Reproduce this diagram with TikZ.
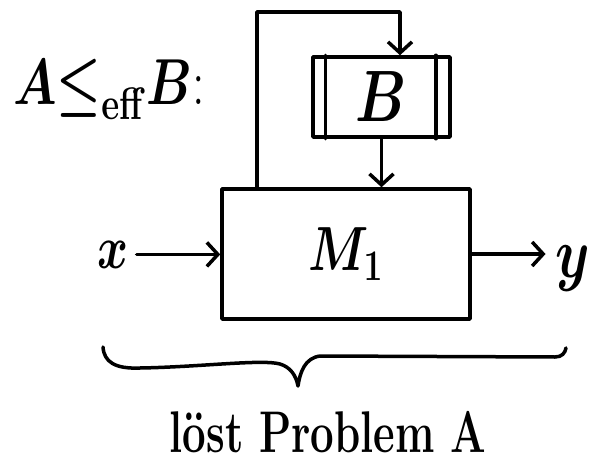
\RequirePackage{fix-cm}
\documentclass[tikz,border=0pt]{standalone}
\usepackage{graphicx}
\usetikzlibrary{arrows.meta}
% stretch hand-lettered labels a little in height
\newcommand{\tallink}[1]{\scalebox{1}[1.3]{#1}}
\tikzset{
  pen/.style={line width=3.5pt, line cap=round, line join=round},
  arr/.style={pen, -{Straight Barb[length=11pt,width=24pt]}},
  box/.style={pen, draw, rectangle, inner sep=0pt},
  lbl/.style={inner sep=0pt},
}
\begin{document}
\begin{tikzpicture}[x=1pt,y=-1pt]
\useasboundingbox (0,0) rectangle (590,466);

% heading
\node[lbl, anchor=base west] (head) at (13,104)
  {\fontsize{50}{60}\selectfont\tallink{\boldmath$A{\leq}_{\mathbf{eff}}B$:}};

% machine M_1
\node[box, minimum width=248pt, minimum height=130pt] (m1) at (346,254)
  {\fontsize{48}{56}\selectfont\tallink{\boldmath$M_1$}};

% oracle B with double side bars
\node[box, minimum width=137pt, minimum height=80pt] (b) at (381.5,97)
  {\fontsize{56}{64}\selectfont\tallink{\boldmath$B$}};
\draw[pen] ([xshift=14pt]b.north west) -- ([xshift=14pt]b.south west);
\draw[pen] ([xshift=-16pt]b.north east) -- ([xshift=-16pt]b.south east);

% input and output
\node[lbl, anchor=base] (xin) at (113,268)
  {\fontsize{47}{54}\selectfont\tallink{\boldmath$x$}};
\node[lbl, anchor=base] (yout) at (573,277)
  {\fontsize{55}{60}\selectfont\tallink{\boldmath$y$}};
\draw[arr, shorten <=8pt] (xin.east) -- (m1.west |- xin.east);
\draw[arr, shorten >=10pt] (m1.east) -- (yout.west |- m1.east);

% query loop from M_1 to B and answer back
\coordinate (fbL) at (257,12);
\coordinate (fbR) at (400,12);
\draw[arr] (fbL |- m1.north) -- (fbL) -- (fbR) -- (fbR |- b.north);
\draw[arr] (b.south) -- (b.south |- m1.north);

% underbrace
\coordinate (brL) at (103,347);
\coordinate (brTip) at (298,386);
\coordinate (brR) at (566,348);
\draw[pen] (brL) .. controls (104,362) and (115,369) .. (140,368)
  .. controls (200,367) and (262,359) .. (280,364)
  .. controls (290,367) and (296,375) .. (brTip)
  .. controls (300,372) and (305,358) .. (320,356)
  -- (555,357)
  .. controls (562,357) and (565,353) .. (brR);

\node[lbl, anchor=base] (caption) at (328,452)
  {\fontsize{42}{50}\selectfont\bfseries\scalebox{1}[1.4]{löst Problem A}};
\end{tikzpicture}
\end{document}
